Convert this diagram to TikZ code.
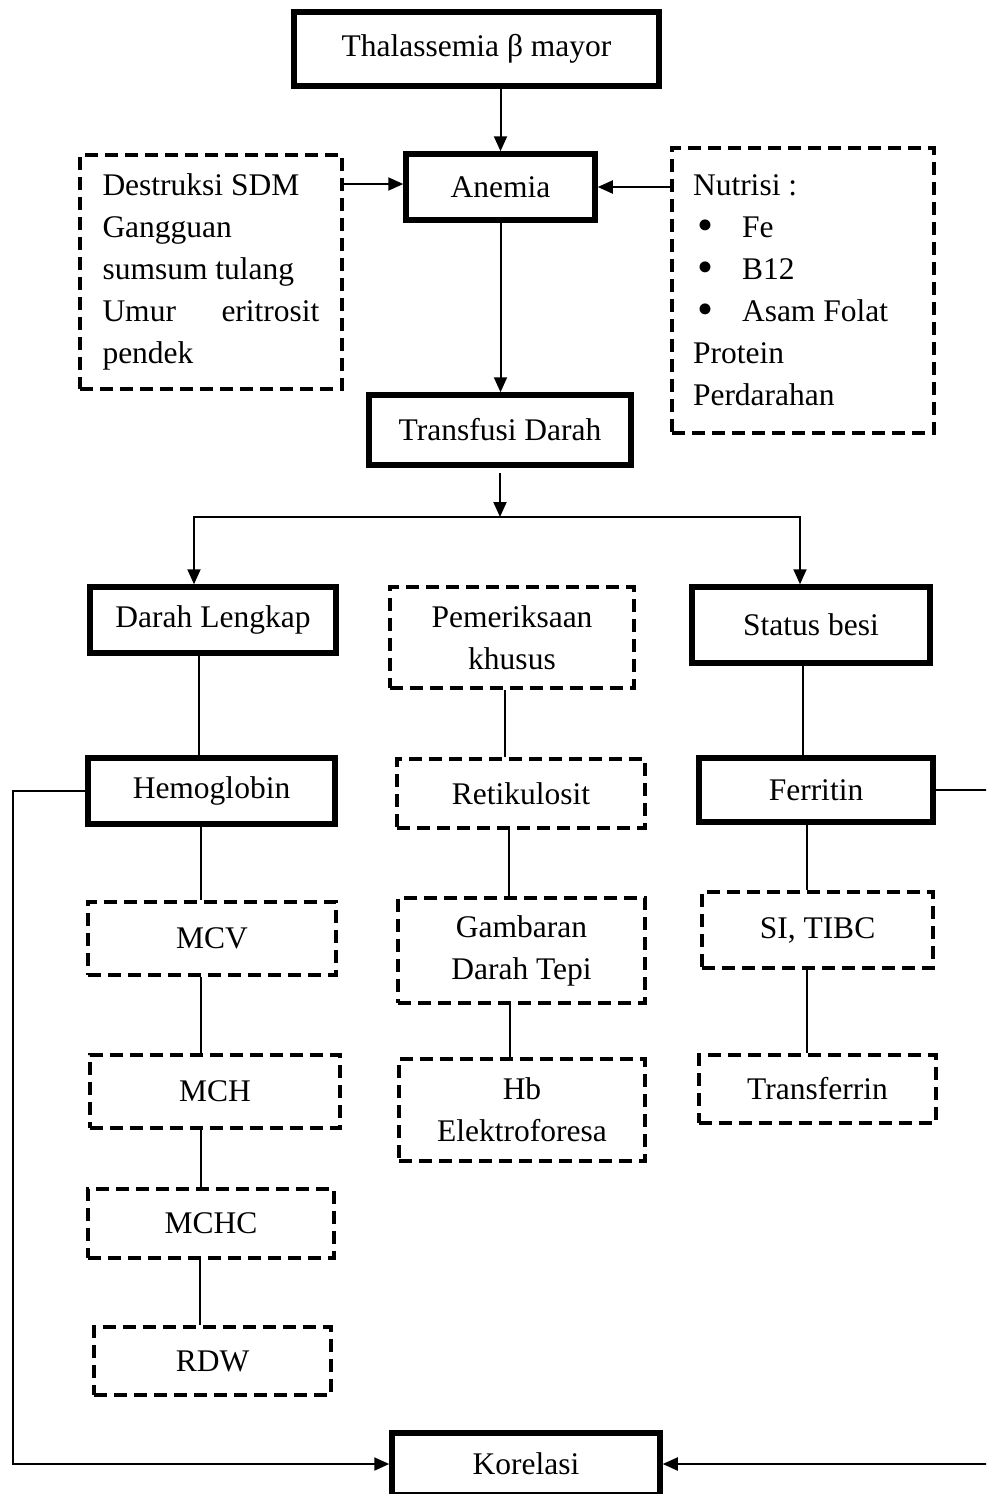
\documentclass[tikz,border=0pt]{standalone}
\usepackage{fontspec}
\setmainfont{Liberation Serif}
\usetikzlibrary{arrows.meta}
\newcommand{\bigbul}{\hspace*{4pt}\makebox[45pt][l]{\raisebox{-2.5pt}{\scalebox{1.45}{\textbullet}}}}
\begin{document}
\begin{tikzpicture}[x=1pt,y=-1pt,
  font=\fontsize{31.5}{42}\selectfont,
  solidbox/.style={draw, line width=5.5pt, align=center, inner sep=0pt},
  dashbox/.style={draw, line width=4.5pt, dash pattern=on 13pt off 7pt, align=center, inner sep=0pt},
  conn/.style={line width=2pt},
  arr/.style={conn, -{Triangle[length=15pt,width=13pt]}}]
\clip (0,0) rectangle (986,1494);
% boxes
\node[solidbox, minimum width=365pt, minimum height=74pt] (thal) at (476.5,49) {Thalassemia β mayor};
\node[solidbox, minimum width=189pt, minimum height=66pt] (anemia) at (500.5,187) {Anemia};
\node[dashbox, text width=217pt, inner xsep=22.5pt, minimum height=234pt, align=flush left] (destr) at (211,272)
  {Destruksi SDM\\Gangguan\\sumsum tulang\\Umur\hfill eritrosit\\pendek};
\node[dashbox, text width=220pt, inner xsep=21pt, minimum height=285pt, align=flush left] (nutri) at (803,290.5)
  {Nutrisi :\\\bigbul Fe\\\bigbul B12\\\bigbul Asam Folat\\Protein\\Perdarahan};
\node[solidbox, minimum width=262pt, minimum height=70pt] (transf) at (500,430) {Transfusi Darah};
\node[solidbox, minimum width=246pt, minimum height=66pt] (darah) at (213,620) {Darah Lengkap};
\node[dashbox, minimum width=244pt, minimum height=101pt] (pemer) at (512,637.5) {Pemeriksaan\\khusus};
\node[solidbox, minimum width=238pt, minimum height=76pt] (status) at (811,625) {Status besi};
\node[solidbox, minimum width=247pt, minimum height=66pt] (hemo) at (211.5,791) {Hemoglobin};
\node[dashbox, minimum width=248pt, minimum height=69pt] (retik) at (521,793.5) {Retikulosit};
\node[solidbox, minimum width=234pt, minimum height=64pt] (ferr) at (816,790) {Ferritin};
\node[dashbox, minimum width=248pt, minimum height=73pt] (mcv) at (212,938.5) {MCV};
\node[dashbox, minimum width=247pt, minimum height=105pt] (gamb) at (521.5,950.5) {Gambaran\\Darah Tepi};
\node[dashbox, minimum width=231pt, minimum height=76pt] (si) at (817.5,930) {SI, TIBC};
\node[dashbox, minimum width=250pt, minimum height=73pt] (mch) at (215,1091.5) {MCH};
\node[dashbox, minimum width=246pt, minimum height=102pt] (hbel) at (522,1110) {Hb\\Elektroforesa};
\node[dashbox, minimum width=237pt, minimum height=68pt] (transfer) at (817.5,1089) {Transferrin};
\node[dashbox, minimum width=246pt, minimum height=69pt] (mchc) at (211,1223.5) {MCHC};
\node[dashbox, minimum width=237pt, minimum height=68pt] (rdw) at (212.5,1361) {RDW};
\node[solidbox, minimum width=268pt, minimum height=62pt] (korel) at (526,1464) {Korelasi};
% coordinates
\coordinate (br) at (500,517);
\coordinate (lx) at (13,0);
\coordinate (rx) at (1005,0);
% arrows
\draw[arr] (thal.south -| anemia.north) -- (anemia.north);
\draw[arr] (anemia.south) -- (anemia.south |- transf.north);
\draw[arr] ([yshift=3pt]anemia.west -| destr.east) -- ([yshift=3pt]anemia.west);
\draw[arr] (nutri.west |- anemia.east) -- (anemia.east);
\draw[arr] ([yshift=-5pt]transf.south) -- (br);
\draw[arr] (br) -| ([xshift=-19pt]darah.north);
\draw[arr] (br) -| ([xshift=-11pt]status.north);
% plain connectors
\draw[conn] ([xshift=-14pt]darah.south) -- ([xshift=-14pt]darah.south |- hemo.north);
\draw[conn] ([xshift=-7pt]pemer.south) -- ([xshift=-7pt]pemer.south |- retik.north);
\draw[conn] ([xshift=-8pt]status.south) -- ([xshift=-8pt]status.south |- ferr.north);
\draw[conn] ([xshift=-10.5pt]hemo.south) -- ([xshift=-10.5pt]hemo.south |- mcv.north);
\draw[conn] ([xshift=-11pt]mcv.south) -- ([xshift=-11pt]mcv.south |- mch.north);
\draw[conn] ([xshift=-14pt]mch.south) -- ([xshift=-14pt]mch.south |- mchc.north);
\draw[conn] ([xshift=-11pt]mchc.south) -- ([xshift=-11pt]mchc.south |- rdw.north);
\draw[conn] ([xshift=-12pt]retik.south) -- ([xshift=-12pt]retik.south |- gamb.north);
\draw[conn] ([xshift=-11.5pt]gamb.south) -- ([xshift=-11.5pt]gamb.south |- hbel.north);
\draw[conn] ([xshift=-9pt]ferr.south) -- ([xshift=-9pt]ferr.south |- si.north);
\draw[conn] ([xshift=-10.5pt]si.south) -- ([xshift=-10.5pt]si.south |- transfer.north);
% loops to Korelasi
\draw[arr] (hemo.west) -- (hemo.west -| lx) |- (korel.west);
\draw[arr] (ferr.east) -- (ferr.east -| rx) |- (korel.east);
\end{tikzpicture}
\end{document}
